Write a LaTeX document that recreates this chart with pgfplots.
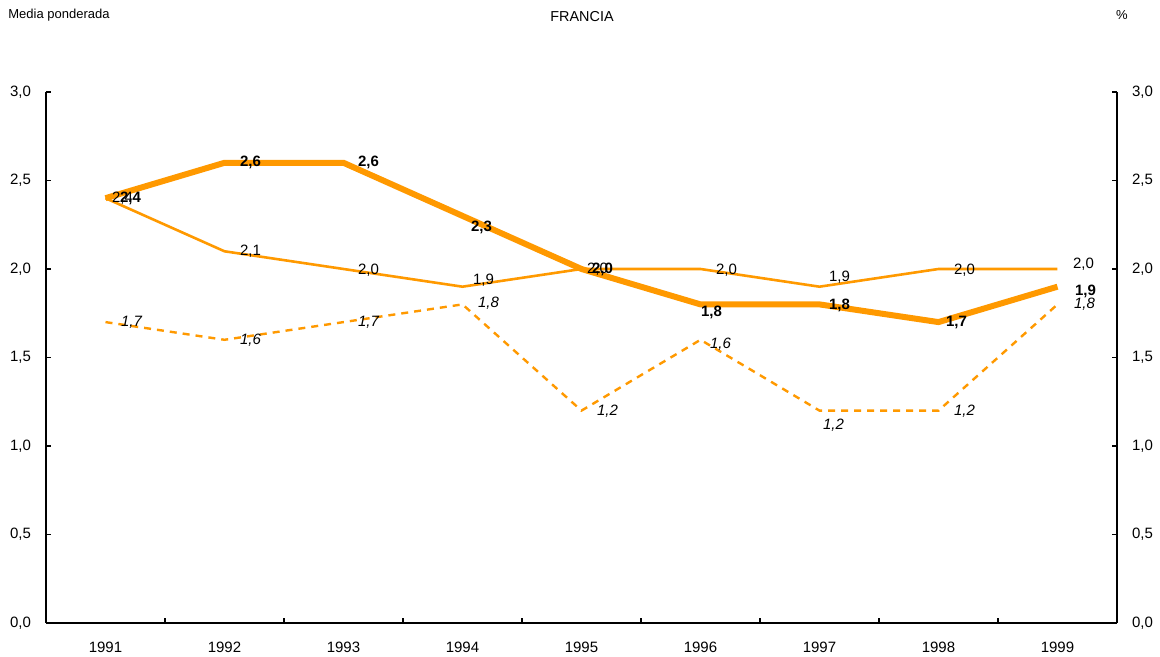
\documentclass[border=0pt]{standalone}
\usepackage{fontspec}
\setmainfont{Liberation Sans}
\usepackage{pgfplots}
\pgfplotsset{compat=1.18}
\usepackage{pgfplotstable}
\definecolor{lineor}{RGB}{255,153,0}

\pgfplotstableread{
x y dx dy
1 2.4 12.5 0
2 2.6 13 0
3 2.6 12.5 0
4 2.3 9.5 -6
5 2.0 10.5 0
6 1.8 5.5 -4
7 1.8 10 -0.5
8 1.7 9 0
9 1.9 14 -2.5
}\thickdata

\pgfplotstableread{
x y dx dy
1 2.4 8.5 0
2 2.1 13 0
3 2.0 12.5 -0.5
4 1.9 10.5 3
5 2.0 8 0
6 2.0 13 -0.5
7 1.9 10 4.5
8 2.0 13 -0.5
9 2.0 13 2.5
}\thindata

\pgfplotstableread{
x y dx dy
1 1.7 13 0
2 1.6 13 0
3 1.7 12.5 0
4 1.8 13 0.5
5 1.2 13 -0.5
6 1.6 10 -2
7 1.2 7 -7.5
8 1.2 13 -0.5
9 1.8 13.5 0
}\dashdata

\begin{document}
\begin{tikzpicture}
\useasboundingbox (-23pt,-17pt) rectangle (557pt,311.5pt);
\pgfplotsset{
  labelstyle/.style={
    point meta=explicit,
    visualization depends on={\thisrow{dx}\as\labdx},
    visualization depends on={\thisrow{dy}\as\labdy},
    nodes near coords={\pgfmathprintnumber[use comma,fixed,fixed zerofill,precision=1]{\pgfplotspointmeta}},
    every node near coord/.append style={anchor=center, text=black, xshift=\labdx pt, yshift=\labdy pt, inner sep=0pt},
  }
}
\begin{axis}[
  at={(0,0)}, anchor=south west, scale only axis,
  width=535.5pt, height=265.5pt,
  xmin=0.5, xmax=9.5, ymin=0, ymax=3,
  axis x line*=bottom, axis y line*=left,
  xtick={1,2,3,4,5,6,7,8,9},
  xticklabels={1991,1992,1993,1994,1995,1996,1997,1998,1999},
  major x tick style={draw=none},
  minor xtick={1.5,2.5,3.5,4.5,5.5,6.5,7.5,8.5},
  ytick={0,0.5,1,1.5,2,2.5,3},
  tick align=inside, major tick length=2.5pt, minor tick length=2.5pt,
  /pgf/number format/.cd, use comma, fixed, fixed zerofill, precision=1, assume math mode=true,
  /pgfplots/.cd,
  ticklabel style={font=\fontsize{7.5}{9}\selectfont},
  xticklabel style={yshift=-5.8pt},
  yticklabel style={xshift=-4pt},
  axis line style={black, line width=0.6pt},
  tick style={black, line width=0.6pt},
  clip=false,
]
\addplot[lineor, line width=1.2pt, dash pattern=on 3.5pt off 3pt, labelstyle,
  every node near coord/.append style={font=\fontsize{7.5}{9}\selectfont\itshape}]
  table[x=x, y=y, meta=y] {\dashdata};
\addplot[lineor, line width=1.3pt, labelstyle,
  every node near coord/.append style={font=\fontsize{7.5}{9}\selectfont}]
  table[x=x, y=y, meta=y] {\thindata};
\addplot[lineor, line width=3pt, labelstyle,
  every node near coord/.append style={font=\fontsize{7.5}{9}\selectfont\bfseries}]
  table[x=x, y=y, meta=y] {\thickdata};
\end{axis}
\begin{axis}[
  at={(0,0)}, anchor=south west, scale only axis,
  width=535.5pt, height=265.5pt,
  xmin=0.5, xmax=9.5, ymin=0, ymax=3,
  axis x line=none, axis y line*=right,
  ytick={0,0.5,1,1.5,2,2.5,3},
  tick align=inside, major tick length=2.5pt,
  /pgf/number format/.cd, use comma, fixed, fixed zerofill, precision=1, assume math mode=true,
  /pgfplots/.cd,
  ticklabel style={font=\fontsize{7.5}{9}\selectfont},
  yticklabel style={xshift=4pt},
  axis line style={black, line width=0.6pt},
  tick style={black, line width=0.6pt},
]
\end{axis}
\node[anchor=west, font=\fontsize{6.5}{7.5}\selectfont, inner sep=0pt] at (-19pt,304pt) {Media ponderada};
\node[font=\fontsize{7.2}{8.5}\selectfont, inner sep=0pt] at (268pt,303pt) {FRANCIA};
\node[font=\fontsize{6.5}{7.5}\selectfont, inner sep=0pt] at (538pt,304pt) {\%};
\end{tikzpicture}
\end{document}
